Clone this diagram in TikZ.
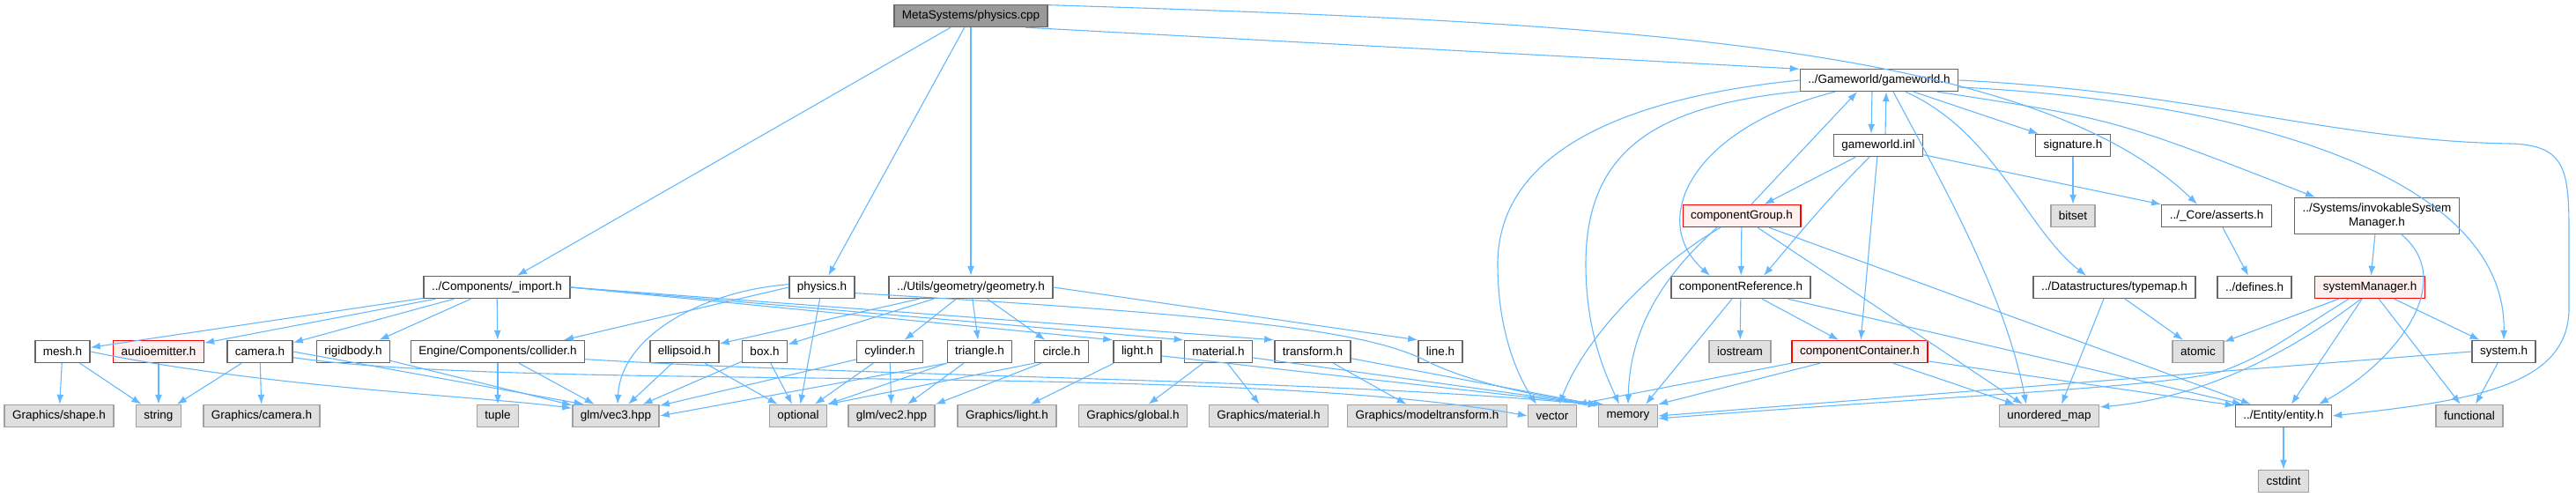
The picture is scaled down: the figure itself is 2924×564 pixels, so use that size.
\documentclass[tikz,border=0pt]{standalone}
\usepackage{fontspec}
\setmainfont{Liberation Sans}
\usetikzlibrary{arrows.meta}
\definecolor{edgeblue}{RGB}{99,184,255}
\definecolor{hdrline}{RGB}{102,102,102}
\definecolor{sysline}{RGB}{160,160,160}
\definecolor{sysfill}{RGB}{224,224,224}
\definecolor{rootfill}{RGB}{153,153,153}
\definecolor{missfill}{RGB}{255,240,240}

\begin{document}
\begin{tikzpicture}[x=1pt,y=-1pt,font=\fontsize{13.5pt}{16pt}\selectfont,
    every node/.style={align=center},
    hdr/.style={draw=hdrline,line width=1.4pt,fill=white,minimum height=25pt,inner xsep=9pt,inner ysep=2pt},
    sys/.style={hdr,draw=sysline,fill=sysfill},
    miss/.style={hdr,draw=red,fill=missfill},
    root/.style={hdr,fill=rootfill},
    dep/.style={-{Latex[length=11pt,width=8pt]},draw=edgeblue,line width=1.1pt}]
    \useasboundingbox (0,0) rectangle (2924,564);
    \node[root] (cpp) at (1102,18) {MetaSystems/physics.cpp};
    \node[hdr] (gw) at (2133,91) {../Gameworld/gameworld.h};
    \node[hdr] (gwinl) at (2132,165) {gameworld.inl};
    \node[hdr] (sig) at (2353,165) {signature.h};
    \node[miss] (grp) at (1977,245) {componentGroup.h};
    \node[sys] (bitset) at (2353,245) {bitset};
    \node[hdr] (asserts) at (2516,245) {../\_Core/asserts.h};
    \node[hdr,minimum height=41pt] (invsm) at (2698,245) {../Systems/invokableSystem\\Manager.h};
    \node[hdr] (imp) at (564,326) {../Components/\_import.h};
    \node[hdr] (phys) at (933,326) {physics.h};
    \node[hdr] (geom) at (1102,326) {../Utils/geometry/geometry.h};
    \node[hdr] (cref) at (1976,326) {componentReference.h};
    \node[hdr] (typemap) at (2400,326) {../Datastructures/typemap.h};
    \node[hdr] (defines) at (2559,326) {../defines.h};
    \node[miss] (sysmgr) at (2690,326) {systemManager.h};
    \node[hdr] (mesh) at (71,399) {mesh.h};
    \node[miss] (audio) at (180,399) {audioemitter.h};
    \node[hdr] (camera) at (295,399) {camera.h};
    \node[hdr] (rigid) at (401,399) {rigidbody.h};
    \node[hdr] (collider) at (565,399) {Engine/Components/collider.h};
    \node[hdr] (ellipsoid) at (777,399) {ellipsoid.h};
    \node[hdr] (box) at (868,399) {box.h};
    \node[hdr] (cylinder) at (1010,399) {cylinder.h};
    \node[hdr] (triangle) at (1112,399) {triangle.h};
    \node[hdr] (circle) at (1205,399) {circle.h};
    \node[hdr] (light) at (1291,399) {light.h};
    \node[hdr] (material) at (1383,399) {material.h};
    \node[hdr] (transform) at (1490,399) {transform.h};
    \node[hdr] (line) at (1635,399) {line.h};
    \node[sys] (iostream) at (1975,399) {iostream};
    \node[miss] (ccont) at (2111,399) {componentContainer.h};
    \node[sys] (atomic) at (2495,399) {atomic};
    \node[hdr] (system) at (2842,399) {system.h};
    \node[sys] (gshape) at (67,472) {Graphics/shape.h};
    \node[sys] (string) at (180,472) {string};
    \node[sys] (gcamera) at (297,472) {Graphics/camera.h};
    \node[sys] (tuple) at (565,472) {tuple};
    \node[sys] (vecthree) at (699,472) {glm/vec3.hpp};
    \node[sys] (optional) at (906,472) {optional};
    \node[sys] (vectwo) at (1012,472) {glm/vec2.hpp};
    \node[sys] (glight) at (1143,472) {Graphics/light.h};
    \node[sys] (gglobal) at (1286,472) {Graphics/global.h};
    \node[sys] (gmaterial) at (1440,472) {Graphics/material.h};
    \node[sys] (gmodel) at (1620,472) {Graphics/modeltransform.h};
    \node[sys] (vector) at (1762,472) {vector};
    \node[sys] (memory) at (1848,472) {memory};
    \node[sys] (umap) at (2326,472) {unordered\_map};
    \node[hdr] (entity) at (2592,472) {../Entity/entity.h};
    \node[sys] (functional) at (2803,472) {functional};
    \node[sys] (cstdint) at (2592,546) {cstdint};

    \draw[dep] (cpp) -- (imp);
    \draw[dep] (cpp) -- (phys);
    \draw[dep] (cpp) -- (geom);
    \draw[dep] (cpp.-12) -- (gw.172);
    \draw[dep] (cpp.8) .. controls (1800,25) and (2300,45) .. ([xshift=-22pt]asserts.north);
    \draw[dep] ([xshift=-8pt]gw.south) -- ([xshift=-8pt]gwinl.north);
    \draw[dep] ([xshift=8pt]gwinl.north) -- ([xshift=8pt]gw.south);
    \draw[dep] (gw) -- (sig);
    \draw[dep] ([xshift=66pt]gw.south) .. controls (2400,135) .. ([xshift=-70pt]invsm.north);
    \draw[dep] ([xshift=-50pt]gw.south) .. controls (1920,145) and (1870,250) .. ([xshift=-35pt]cref.north);
    \draw[dep] (gw.west) .. controls (1850,110) and (1700,170) .. (1700,300) .. controls (1700,380) and (1725,430) .. ([xshift=-18pt]vector.north);
    \draw[dep] (gw.188) .. controls (1880,120) and (1800,170) .. (1800,300) .. controls (1800,380) and (1825,430) .. ([xshift=-10pt]memory.north);
    \draw[dep] ([xshift=16pt]gw.south) .. controls (2200,200) and (2275,330) .. ([xshift=-26pt]umap.north);
    \draw[dep] ([xshift=30pt]gw.south) .. controls (2265,150) and (2300,260) .. ([xshift=-32pt]typemap.north);
    \draw[dep] (gw.-5) .. controls (2550,115) and (2845,200) .. (system.north);
    \draw[dep] (gw.east) .. controls (2500,105) and (2650,160) .. (2850,163) .. controls (2910,165) and (2916,190) .. (2916,260) -- (2916,350) .. controls (2916,440) and (2800,455) .. (entity.east);
    \draw[dep] (gwinl) -- (grp);
    \draw[dep] ([xshift=-10pt]gwinl.south) .. controls (2070,230) and (2030,280) .. ([xshift=26pt]cref.north);
    \draw[dep] (gwinl) -- (ccont);
    \draw[dep] (gwinl) -- (asserts);
    \draw[dep] (sig) -- (bitset);
    \draw[dep] (asserts) -- (defines);
    \draw[dep] (invsm) -- (sysmgr);
    \draw[dep] ([xshift=28pt]invsm.south) .. controls (2790,320) and (2720,410) .. ([xshift=40pt]entity.north);
    \draw[dep] ([xshift=11pt]grp.north) -- ([xshift=-25pt]gw.south);
    \draw[dep] (grp) -- (cref);
    \draw[dep] ([xshift=-24pt]grp.south) .. controls (1880,300) and (1800,380) .. ([xshift=8pt]vector.north);
    \draw[dep] ([xshift=-28pt]grp.south) .. controls (1880,320) and (1850,380) .. (memory.north);
    \draw[dep] ([xshift=18pt]grp.south) -- ([xshift=-30pt]umap.north);
    \draw[dep] ([xshift=31pt]grp.south) -- ([xshift=-37pt]entity.north);
    \draw[dep] (cref) -- (iostream);
    \draw[dep] ([xshift=24pt]cref.south) -- ([xshift=-24pt]ccont.north);
    \draw[dep] ([xshift=-10pt]cref.south) -- ([xshift=20pt]memory.north);
    \draw[dep] ([xshift=53pt]cref.south) -- ([xshift=-47pt]entity.north);
    \draw[dep] (ccont.south west) -- (vector.north east);
    \draw[dep] ([xshift=-45pt]ccont.south) -- (memory.north east);
    \draw[dep] ([xshift=38pt]ccont.south) -- ([xshift=-39pt]umap.north);
    \draw[dep] (ccont.-8) -- (entity.168);
    \draw[dep] (sysmgr) -- (atomic);
    \draw[dep] (sysmgr) -- (entity);
    \draw[dep] (sysmgr) -- (functional);
    \draw[dep] (sysmgr) -- (system);
    \draw[dep] ([xshift=-10pt]sysmgr.south) .. controls (2560,430) and (2460,455) .. (umap.10);
    \draw[dep] ([xshift=-24pt]sysmgr.south) .. controls (2600,380) and (2570,405) .. (2520,422) .. controls (2450,440) and (2200,450) .. ([yshift=-3pt]memory.east);
    \draw[dep] (system) -- (functional);
    \draw[dep] (system.west) -- (memory.east);
    \draw[dep] ([xshift=-12pt]typemap.south) -- ([xshift=14pt]umap.north);
    \draw[dep] ([xshift=12pt]typemap.south) -- ([xshift=-17pt]atomic.north);
    \draw[dep] (entity) -- (cstdint);
    \draw[dep] (imp) -- (mesh);
    \draw[dep] (imp) -- (audio);
    \draw[dep] (imp) -- (camera);
    \draw[dep] (imp) -- (rigid);
    \draw[dep] (imp) -- (collider);
    \draw[dep] (imp.east) -- (light.north west);
    \draw[dep] (imp.east) -- (material.north west);
    \draw[dep] (imp.east) -- (transform.north west);
    \draw[dep] (phys.west) -- ([xshift=75pt]collider.north);
    \draw[dep] (phys.175) .. controls (800,330) and (705,380) .. ([xshift=2pt]vecthree.north);
    \draw[dep] (phys) -- (optional);
    \draw[dep] (phys.-10) .. controls (1450,360) and (1560,380) .. (1620,410) .. controls (1680,440) and (1780,455) .. ([xshift=-28pt]memory.north);
    \draw[dep] (geom) -- (ellipsoid);
    \draw[dep] (geom) -- (box);
    \draw[dep] (geom) -- (cylinder);
    \draw[dep] (geom) -- (triangle);
    \draw[dep] (geom) -- (circle);
    \draw[dep] (geom.east) -- (line.north west);
    \draw[dep] (mesh) -- (gshape);
    \draw[dep] (mesh) -- (string);
    \draw[dep] (mesh.east) .. controls (300,440) and (550,450) .. (vecthree.170);
    \draw[dep] (audio) -- (string);
    \draw[dep] (camera) -- (string);
    \draw[dep] (camera) -- (gcamera);
    \draw[dep] (camera.east) -- (vecthree.160);
    \draw[dep] (camera.-10) .. controls (600,445) and (1400,410) .. (vector.west);
    \draw[dep] (rigid) -- (vecthree);
    \draw[dep] (collider) -- (tuple);
    \draw[dep] (collider) -- (vecthree);
    \draw[dep] (collider.-5) .. controls (1000,428) and (1500,430) .. (memory.160);
    \draw[dep] (ellipsoid) -- (vecthree);
    \draw[dep] (ellipsoid) -- (optional);
    \draw[dep] (box) -- (vecthree);
    \draw[dep] (box) -- (optional);
    \draw[dep] (cylinder) -- (vecthree);
    \draw[dep] (cylinder) -- (optional);
    \draw[dep] (cylinder) -- (vectwo);
    \draw[dep] (triangle.south west) -- (vecthree.east);
    \draw[dep] (triangle.south west) -- (optional.north east);
    \draw[dep] (triangle) -- (vectwo);
    \draw[dep] (circle.south west) -- (optional.north east);
    \draw[dep] ([xshift=8pt]circle.south west) -- (vectwo.north east);
    \draw[dep] (light) -- (glight);
    \draw[dep] (light.-10) -- (memory.160);
    \draw[dep] (material) -- (gglobal);
    \draw[dep] (material) -- (gmaterial);
    \draw[dep] (material.-10) -- (memory.160);
    \draw[dep] (transform) -- (gmodel);
    \draw[dep] (transform.-10) -- (memory.160);
  \end{tikzpicture}
\end{document}
